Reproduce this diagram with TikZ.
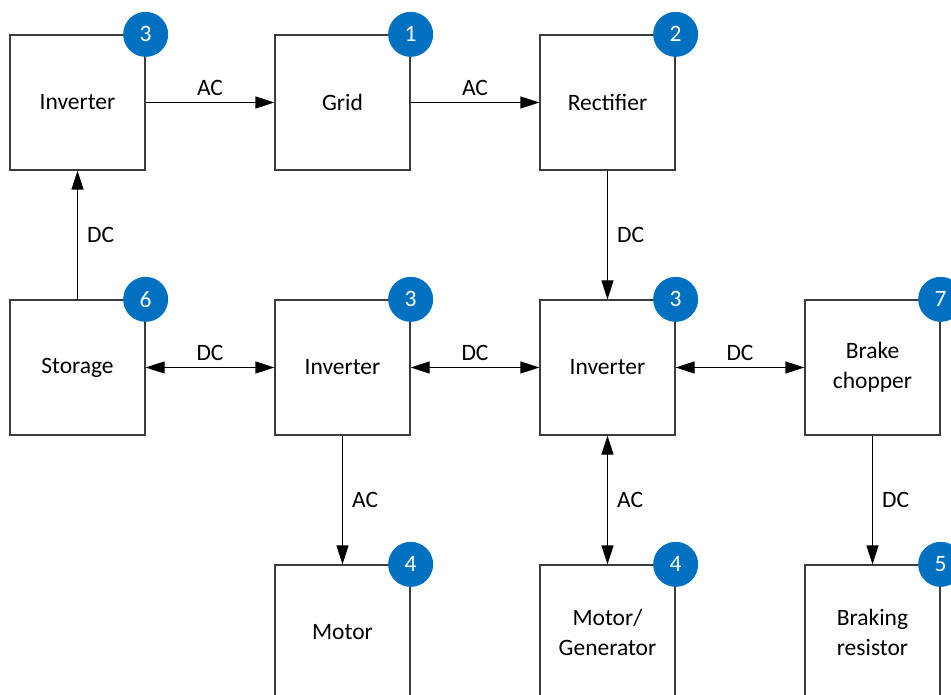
\documentclass[tikz,border=0pt]{standalone}
\usepackage{fontspec}
\setmainfont{Carlito}
\usetikzlibrary{arrows.meta}
\definecolor{badgeblue}{RGB}{0,112,192}
\definecolor{boxline}{RGB}{60,60,60}
\begin{document}
\begin{tikzpicture}[x=1pt,y=-1pt,
  blk/.style={draw=boxline,line width=1.3pt,minimum width=135pt,minimum height=135pt,inner sep=0pt,align=center,font=\fontsize{23.5}{30}\selectfont,fill=white},
  badge/.style={circle,fill=badgeblue,minimum size=45pt,inner sep=0pt,text=white,font=\fontsize{23.5}{26}\selectfont},
  conn/.style={line width=1.3pt,-{Triangle[length=19pt,width=12pt]}},
  bconn/.style={line width=1.3pt,{Triangle[length=19pt,width=12pt]}-{Triangle[length=19pt,width=12pt]}},
  lab/.style={font=\fontsize{23.5}{26}\selectfont,inner sep=0pt}
]
\useasboundingbox (0,0) rectangle (951,695);
\clip (0,0) rectangle (951,695);
% top row
\node[blk] (inv1) at (77.5,102.5) {Inverter};
\node[blk] (grid) at (342.5,102.5) {Grid};
\node[blk] (rect) at (607.5,102.5) {Rectifier};
% middle row
\node[blk] (stor) at (77.5,367.5) {Storage};
\node[blk] (inv2) at (342.5,367.5) {Inverter};
\node[blk] (inv3) at (607.5,367.5) {Inverter};
\node[blk] (brk) at (872.5,367.5) {Brake\\chopper};
% bottom row
\node[blk] (mot) at (342.5,632.5) {Motor};
\node[blk] (mgen) at (607.5,632.5) {Motor/\\Generator};
\node[blk] (bres) at (872.5,632.5) {Braking\\resistor};
% badges
\node[badge] (b1) at (inv1.north east) {3};
\node[badge] (b2) at (grid.north east) {1};
\node[badge] (b3) at (rect.north east) {2};
\node[badge] (b4) at (stor.north east) {6};
\node[badge] (b5) at (inv2.north east) {3};
\node[badge] (b6) at (inv3.north east) {3};
\node[badge] (b7) at (brk.north east) {7};
\node[badge] (b8) at (mot.north east) {4};
\node[badge] (b9) at (mgen.north east) {4};
\node[badge] (b10) at (bres.north east) {5};
% connectors
\draw[conn] (inv1.east) -- node[lab,above=6pt]{AC} (grid.west);
\draw[conn] (grid.east) -- node[lab,above=6pt]{AC} (rect.west);
\draw[conn] (stor.north) -- node[lab,right=9pt]{DC} (inv1.south);
\draw[conn] (rect.south) -- node[lab,right=9pt]{DC} (inv3.north);
\draw[bconn] (stor.east) -- node[lab,above=6pt]{DC} (inv2.west);
\draw[bconn] (inv2.east) -- node[lab,above=6pt]{DC} (inv3.west);
\draw[bconn] (inv3.east) -- node[lab,above=6pt]{DC} (brk.west);
\draw[conn] (inv2.south) -- node[lab,right=9pt]{AC} (mot.north);
\draw[bconn] (inv3.south) -- node[lab,right=9pt]{AC} (mgen.north);
\draw[conn] (brk.south) -- node[lab,right=9pt]{DC} (bres.north);
\end{tikzpicture}
\end{document}
